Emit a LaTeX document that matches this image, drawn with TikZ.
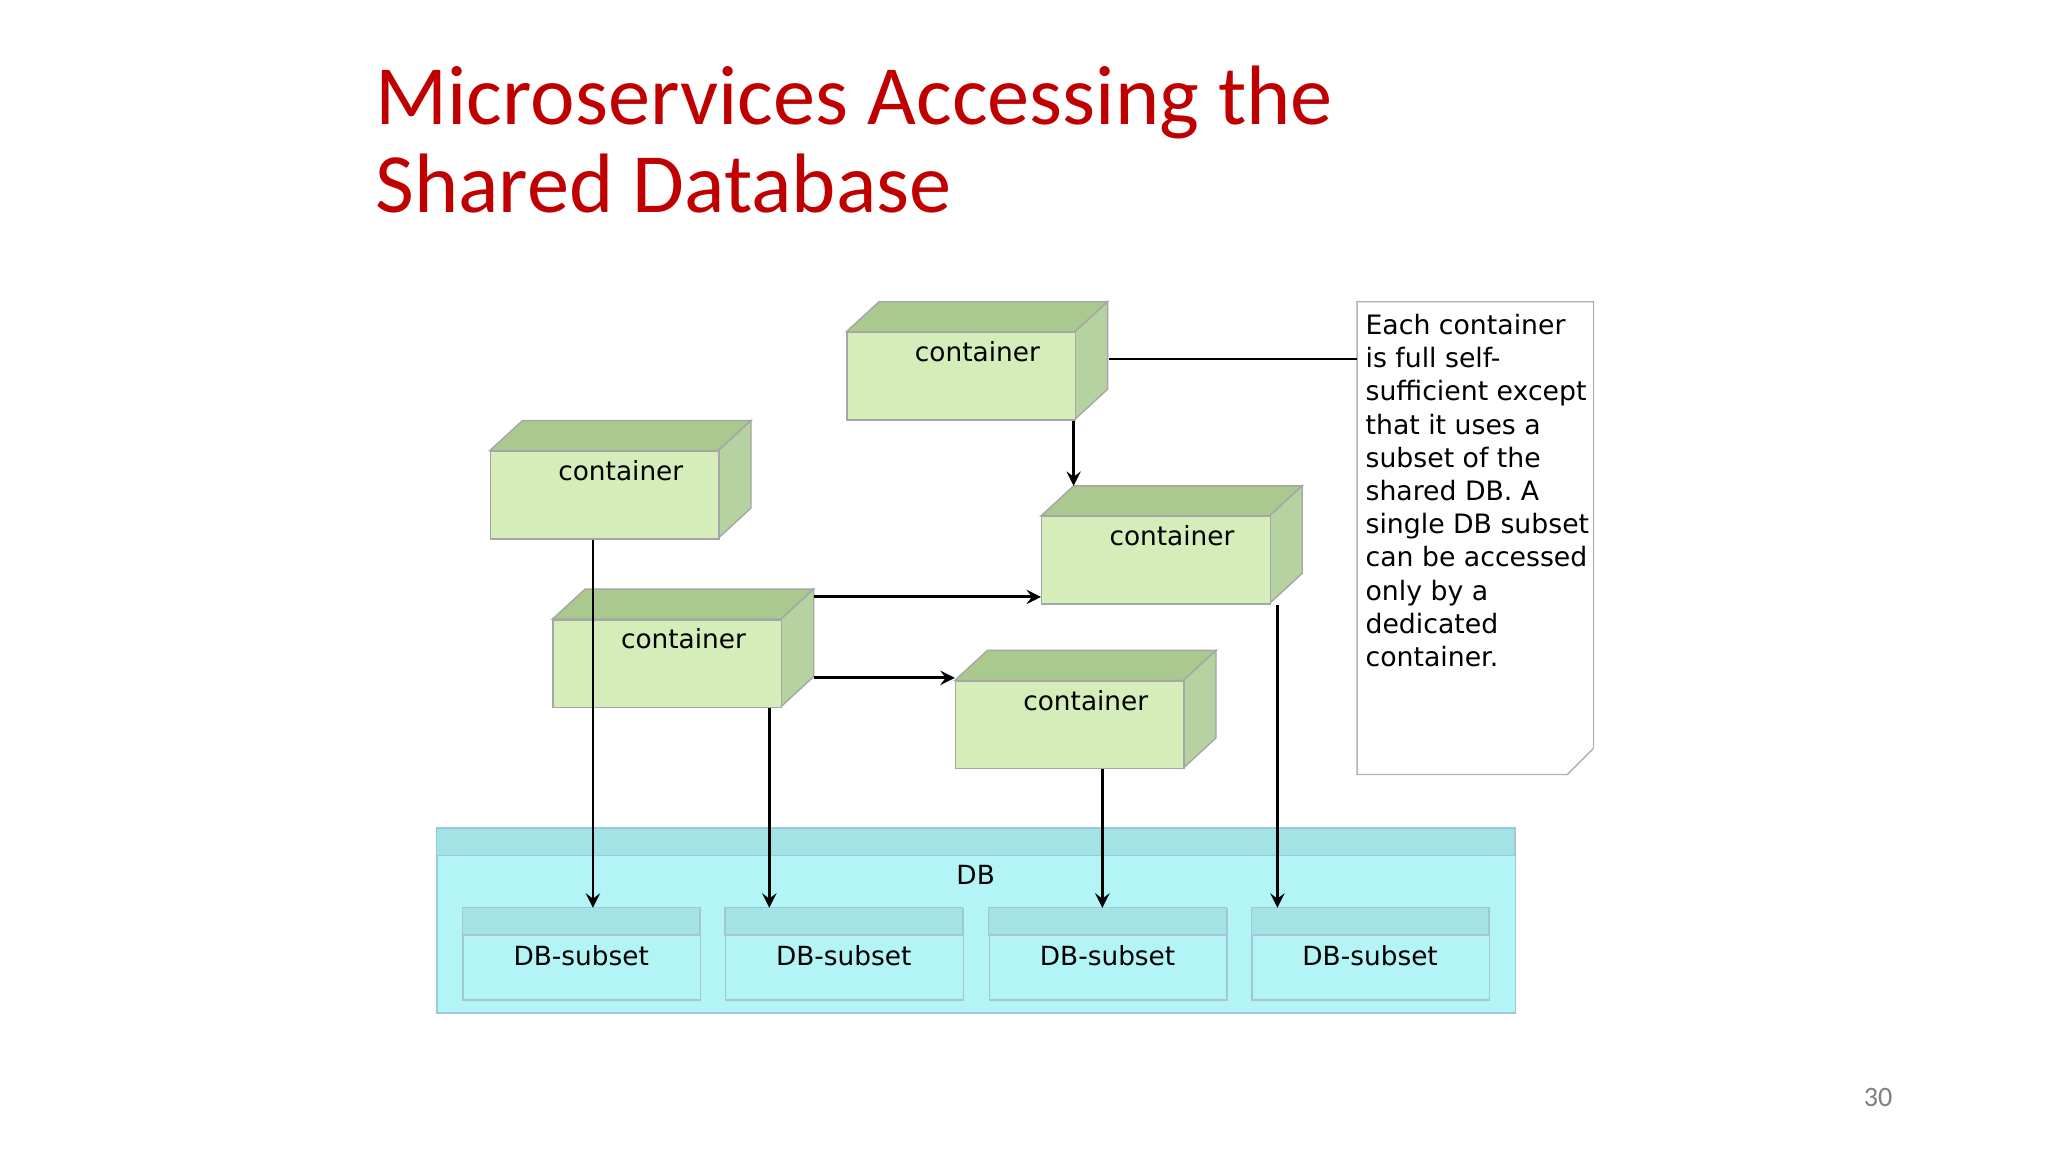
\documentclass[tikz,border=0pt]{standalone}
\usepackage{fontspec}
\setmainfont{DejaVu Sans}
\newfontfamily\titlefont{Carlito}
\begin{document}
\begin{tikzpicture}[x=0.013061cm,y=-0.013061cm,
  front/.style={draw=gray!70,fill=cfront,minimum width=2.286cm,minimum height=0.875cm,inner sep=0,anchor=north west},
  topf/.style={draw=gray!70,fill=ctop},
  sidef/.style={draw=gray!70,fill=cside},
  ctext/.style={font=\fontsize{7.5}{9}\selectfont,anchor=north,inner sep=0},
  sub/.style={draw=cyan!40!gray!60,fill=cdb,minimum width=2.377cm,minimum height=0.914cm,inner sep=0,anchor=north west},
  arr/.style={->,>=stealth,thick,black}]
\definecolor{cfront}{HTML}{D4EDB9}
\definecolor{ctop}{HTML}{A9C98F}
\definecolor{cside}{HTML}{B5D2A0}
\definecolor{cdb}{HTML}{B3F5F7}
\definecolor{cband}{HTML}{A3E3E6}
\definecolor{ctitle}{HTML}{C00000}
\useasboundingbox (0,0) rectangle (1568,882);
\fill[white] (0,0) rectangle (1568,882);
\newcommand{\cont}[3]{%
  \fill[topf] (#2,#3) -- ++(25,-23) -- ++(175,0) -- ++(-25,23) -- cycle;
  \fill[sidef] (#2+175,#3) -- ++(25,-23) -- ++(0,67) -- ++(-25,23) -- cycle;
  \node[front] (#1) at (#2,#3) {};
  \node[ctext] (#1L) at ([xshift=0.16cm,yshift=-0.09cm]#1.north) {container};}
% title
\node[anchor=base west,inner sep=0,font=\titlefont\fontsize{24}{29}\selectfont,text=ctitle] (t1) at (287,95) {Microservices Accessing the};
\node[anchor=base west,inner sep=0,font=\titlefont\fontsize{24}{29}\selectfont,text=ctitle] (t2) at (287,163) {Shared Database};
\node[anchor=base,inner sep=0,font=\titlefont\fontsize{8}{10}\selectfont,text=gray] (pg) at (1438,847) {30};
% DB
\node[draw=cyan!50!gray!60,fill=cdb,minimum width=10.788cm,minimum height=1.842cm,inner sep=0,anchor=north west] (db) at (334,634) {};
\fill[cband,draw=cyan!50!gray!60] (334,634) rectangle (1160,655);
\node[ctext] (dbL) at (747,662) {DB};
\foreach \n/\x in {s1/354,s2/555,s3/757,s4/958}{
  \node[sub] (\n) at (\x,695) {};
  \fill[cband,draw=cyan!40!gray!60] (\x,695) rectangle ++(182,21);
  \node[ctext] (\n L) at (\x+91,723) {DB-subset};}
% containers
\cont{c1}{648}{254}
\cont{c2}{375}{345}
\cont{c3}{797}{395}
\cont{c4}{423}{474}
\cont{c5}{731}{521}
% note
\draw[gray!60,fill=white] (1039,231) -- (1220,231) -- (1220,573) -- (1200,593) -- (1039,593) -- cycle;
\coordinate (nw) at (1039,275);
\node[anchor=north west,inner sep=0,align=left,font=\fontsize{7.6}{9.45}\selectfont] (note) at (1045,240)
{Each container\\is full self-\\sufficient except\\that it uses a\\subset of the\\shared DB. A\\single DB subset\\can be accessed\\only by a\\dedicated\\container.};
% connectors
\draw[black] (c1.east |- 0,275) ++(25,0) coordinate (c1r) -- (nw);
\draw[arr] (c1.south -| 822,0) -- (822,372) coordinate (c3t);
\draw[arr] (c2.south -| 454,0) -- (s1.north -| 454,0);
\draw[arr] (623,457) coordinate (c4a) -- (c3.west |- c4a);
\draw[arr] (623,519) coordinate (c4b) -- (c5.west |- c4b);
\draw[arr] (c4.south -| 589,0) -- (s2.north -| 589,0);
\draw[arr] (c5.south -| 844,0) -- (s3.north -| 844,0);
\draw[arr] (c3.south -| 978,0) -- (s4.north -| 978,0);
\end{tikzpicture}
\end{document}
